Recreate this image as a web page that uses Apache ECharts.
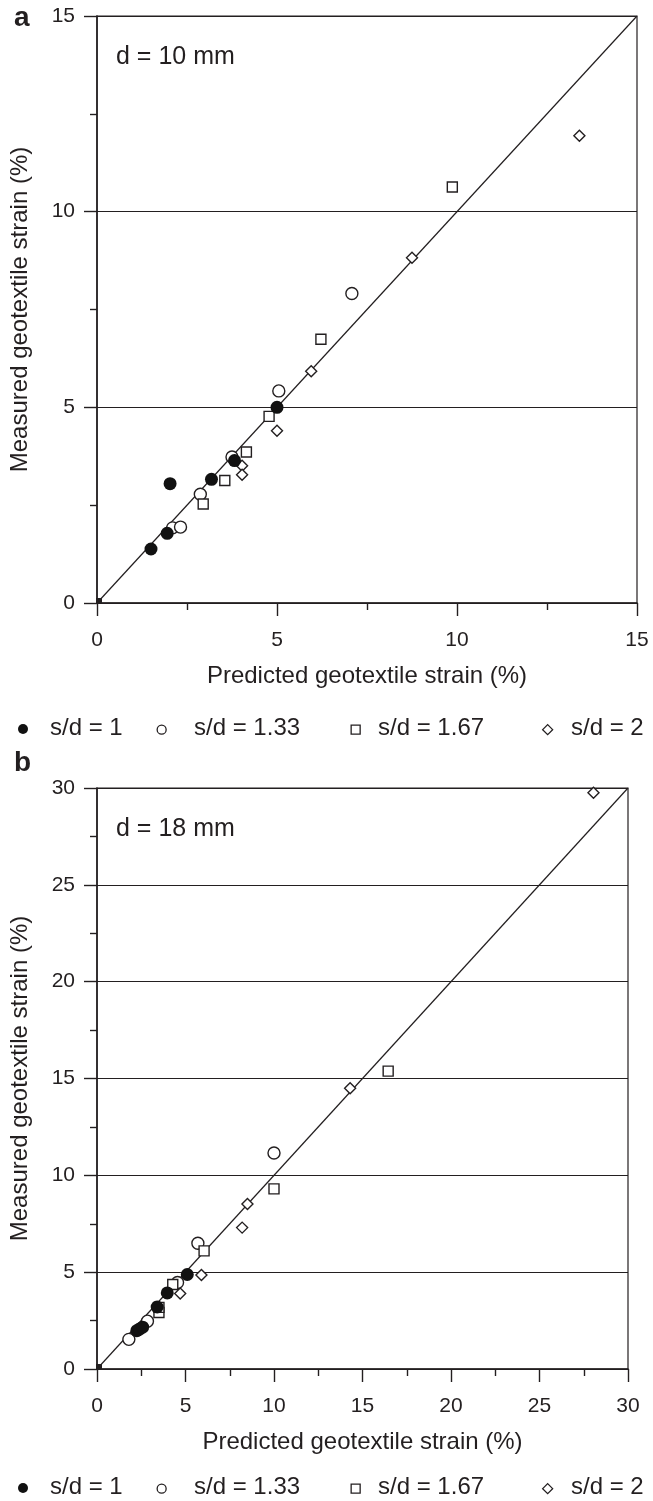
<!DOCTYPE html>
<html>
<head>
<meta charset="utf-8">
<script src="https://cdn.jsdelivr.net/npm/echarts@6/dist/echarts.min.js"></script>
<style>
html,body{margin:0;padding:0;background:#fff;}
#chart{width:653px;height:1501px;}
</style>
</head>
<body>
<div id="chart"></div>
<script>
// ---- data (predicted %, measured %) ----
const seriesNames = ['s/d = 1', 's/d = 1.33', 's/d = 1.67', 's/d = 2'];
// panel a : d = 10 mm
const aFilled  = [[1.50,1.38],[1.95,1.78],[2.03,3.05],[3.18,3.16],[3.82,3.64],[5.00,5.00]];
const aOpen    = [[2.10,1.92],[2.32,1.94],[2.87,2.78],[3.75,3.73],[5.05,5.42],[7.08,7.91]];
const aSquare  = [[2.95,2.53],[3.55,3.13],[4.15,3.86],[4.78,4.77],[6.22,6.74],[9.87,10.63]];
const aDiamond = [[4.03,3.51],[4.03,3.28],[5.00,4.40],[5.95,5.92],[8.75,8.82],[13.40,11.94]];
// panel b : d = 18 mm
const bFilled  = [[2.25,1.98],[2.40,2.06],[2.58,2.16],[3.40,3.20],[3.97,3.93],[5.10,4.88]];
const bOpen    = [[1.80,1.53],[2.85,2.47],[4.55,4.47],[5.70,6.49],[10.00,11.15]];
const bSquare  = [[3.50,2.92],[3.50,3.18],[4.28,4.36],[6.05,6.10],[10.00,9.30],[16.45,15.38]];
const bDiamond = [[4.70,3.90],[5.90,4.85],[8.20,7.30],[8.50,8.52],[14.30,14.50],[28.05,29.76]];
// axes
const aMax = 15, bMax = 30, tickStep = 5;
const panelLetters = ['a', 'b'];
const panelNotes = ['d = 10 mm', 'd = 18 mm'];
const xTitle = 'Predicted geotextile strain (%)';
const yTitle = 'Measured geotextile strain (%)';

const FONT = '"Liberation Sans", Arial, Helvetica, sans-serif';
const INK = '#231f20';

const chart = echarts.init(document.getElementById('chart'), null, {renderer:'canvas'});

function xAxisCfg(idx, max){
  return {
    type:'value', gridIndex:idx, min:0, max:max, interval:tickStep,
    name: xTitle, nameLocation:'middle', nameGap:61,
    nameTextStyle:{fontFamily:FONT, fontSize:24, color:INK},
    axisLine:{show:true, onZero:false, lineStyle:{color:INK, width:1.6}},
    axisTick:{show:true, inside:false, length:13, lineStyle:{color:INK, width:1.4}},
    minorTick:{show:true, splitNumber:2, length:7, lineStyle:{color:INK, width:1.4}},
    axisLabel:{fontFamily:FONT, fontSize:21, color:INK, margin:27},
    splitLine:{show:false}
  };
}
function yAxisCfg(idx, max){
  return {
    type:'value', gridIndex:idx, min:0, max:max, interval:tickStep,
    name: yTitle, nameLocation:'middle', nameGap:65,
    nameTextStyle:{fontFamily:FONT, fontSize:24, color:INK},
    axisLine:{show:true, onZero:false, lineStyle:{color:INK, width:1.6}},
    axisTick:{show:true, inside:false, length:13, lineStyle:{color:INK, width:1.4}},
    minorTick:{show:true, splitNumber:2, length:7, lineStyle:{color:INK, width:1.4}},
    axisLabel:{fontFamily:FONT, fontSize:21, color:INK, margin:22},
    splitLine:{show:true, lineStyle:{color:INK, width:1.2}}
  };
}

const openStyle = {color:'#ffffff', borderColor:INK, borderWidth:1.4, opacity:1};
const filledStyle = {color:'#111111', borderColor:'#111111', borderWidth:0, opacity:1};

function panelSeries(idx, max, filled, open, square, diamond){
  return [
    {type:'line', xAxisIndex:idx, yAxisIndex:idx, data:[[0,0],[max,max]], symbol:'none',
     lineStyle:{color:INK, width:1.2}, silent:true, z:1},
    {type:'scatter', xAxisIndex:idx, yAxisIndex:idx, data:[[0,0]], symbol:'rect', symbolSize:6,
     symbolOffset:[2,-2], itemStyle:{color:INK, opacity:1}, silent:true, z:1},
    {name:seriesNames[1], type:'scatter', xAxisIndex:idx, yAxisIndex:idx, data:open,
     symbol:'circle', symbolSize:12, itemStyle:openStyle, z:3},
    {name:seriesNames[2], type:'scatter', xAxisIndex:idx, yAxisIndex:idx, data:square,
     symbol:'rect', symbolSize:10, itemStyle:openStyle, z:3},
    {name:seriesNames[3], type:'scatter', xAxisIndex:idx, yAxisIndex:idx, data:diamond,
     symbol:'diamond', symbolSize:[11,11], itemStyle:openStyle, z:3},
    {name:seriesNames[0], type:'scatter', xAxisIndex:idx, yAxisIndex:idx, data:filled,
     symbol:'circle', symbolSize:13, itemStyle:filledStyle, z:4}
  ];
}

// legend drawn as graphic (positions are styling only)
const legendIconX = [23, 161, 355, 547];
const legendTextX = [50, 194, 378, 571];
function legendGraphics(y){
  const g = [];
  g.push({type:'circle', left:legendIconX[0]-5, top:y-5, shape:{r:5}, style:{fill:'#111'}});
  g.push({type:'circle', left:legendIconX[1]-4.5, top:y-4.5, shape:{r:4.5}, style:{fill:'#fff', stroke:INK, lineWidth:1.3}});
  g.push({type:'rect', left:legendIconX[2]-4.5, top:y-4.5, shape:{width:9, height:9}, style:{fill:'#fff', stroke:INK, lineWidth:1.3}});
  g.push({type:'polygon', left:legendIconX[3]-5, top:y-5, shape:{points:[[5,0],[10,5],[5,10],[0,5]]}, style:{fill:'#fff', stroke:INK, lineWidth:1.3}});
  for(let i=0;i<4;i++){
    g.push({type:'text', left:legendTextX[i], top:y-13,
      style:{text:seriesNames[i], font:'24px '+FONT, fill:INK}});
  }
  return g;
}

const graphics = [
  {type:'text', left:14, top:4, style:{text:panelLetters[0], font:'bold 28px '+FONT, fill:INK}},
  {type:'text', left:14, top:749, style:{text:panelLetters[1], font:'bold 28px '+FONT, fill:INK}},
  {type:'text', left:116, top:45, style:{text:panelNotes[0], font:'25px '+FONT, fill:INK}},
  {type:'text', left:116, top:817, style:{text:panelNotes[1], font:'25px '+FONT, fill:INK}}
].concat(legendGraphics(729)).concat(legendGraphics(1488));

chart.setOption({
  animation:false,
  backgroundColor:'#ffffff',
  grid:[
    {left:97, top:16, width:540, height:587, show:true, borderColor:INK, borderWidth:1.2, backgroundColor:'transparent'},
    {left:97, top:788, width:531, height:581, show:true, borderColor:INK, borderWidth:1.2, backgroundColor:'transparent'}
  ],
  xAxis:[xAxisCfg(0, aMax), xAxisCfg(1, bMax)],
  yAxis:[yAxisCfg(0, aMax), yAxisCfg(1, bMax)],
  series: panelSeries(0, aMax, aFilled, aOpen, aSquare, aDiamond)
    .concat(panelSeries(1, bMax, bFilled, bOpen, bSquare, bDiamond)),
  graphic: graphics
});
</script>
</body>
</html>
